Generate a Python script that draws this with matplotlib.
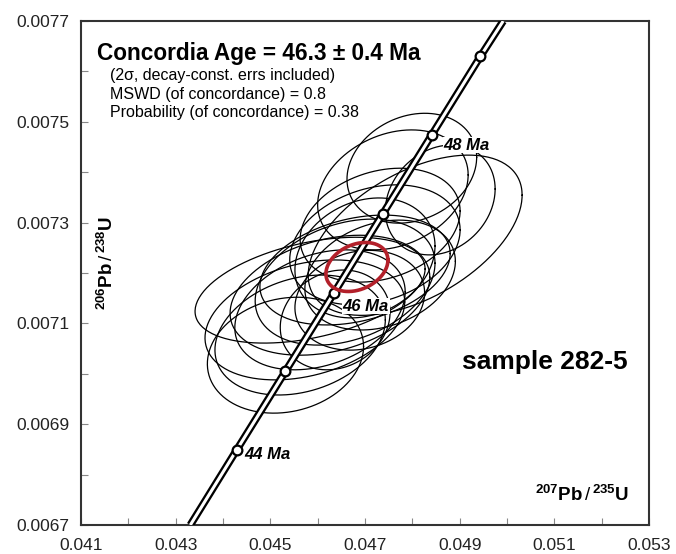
import numpy as np
import matplotlib
matplotlib.use("Agg")
import matplotlib.pyplot as plt

plt.rcParams['font.family'] = ['Liberation Sans', 'DejaVu Sans']
plt.rcParams['mathtext.fontset'] = 'custom'
plt.rcParams['mathtext.rm'] = 'Liberation Sans'
plt.rcParams['mathtext.bf'] = 'Liberation Sans:bold'
plt.rcParams['mathtext.it'] = 'Liberation Sans:italic'

# concordia line (ends at the frame) and age marks
conc_x = [0.04331, 0.04429, 0.04532, 0.04635, 0.04738, 0.04841, 0.04944, 0.04992]
conc_y = [0.006700, 0.006849, 0.007005, 0.007161, 0.007318, 0.007474, 0.007630, 0.007700]
mark_age = [44, 45, 46, 47, 48, 49]
mark_x = [0.04429, 0.04532, 0.04635, 0.04738, 0.04841, 0.04944]
mark_y = [0.006849, 0.007005, 0.007161, 0.007318, 0.007474, 0.007630]

# analyses: centre, 2 sigma errors, error correlation
ell_x = [0.04799, 0.04759, 0.04806, 0.04732, 0.04721, 0.04700, 0.04679, 0.04658, 0.04584,
         0.04626, 0.04605, 0.04573, 0.04563, 0.04532, 0.04637, 0.04859, 0.04689, 0.04732]
ell_y = [0.007408, 0.007365, 0.007275, 0.007295, 0.007256, 0.007230, 0.007206, 0.007182, 0.007166,
         0.007156, 0.007127, 0.007107, 0.007077, 0.007037, 0.007107, 0.007345, 0.007146, 0.007196]
ell_sx = [0.00137, 0.00159, 0.00226, 0.00169, 0.00180, 0.00148, 0.00201, 0.00190, 0.00243,
          0.00211, 0.00180, 0.00211, 0.00180, 0.00165, 0.00116, 0.00116, 0.00137, 0.00159]
ell_sy = [0.000109, 0.000119, 0.000159, 0.000113, 0.000119, 0.000119, 0.000109, 0.000125, 0.000105,
          0.000119, 0.000119, 0.000119, 0.000119, 0.000115, 0.000099, 0.000109, 0.000099, 0.000109]
ell_rho = [0.2, 0.25, 0.5, 0.25, 0.25, 0.2, 0.3, 0.3, 0.4, 0.3, 0.3, 0.3, 0.25, 0.15, 0.15, 0.2, 0.15, 0.25]

# concordia age ellipse
age_x, age_y, age_sx, age_sy, age_rho = 0.04683, 0.007212, 0.000655, 0.0000486, 0.28


def ellipse(x, y, sx, sy, rho):
    t = np.linspace(0, 2 * np.pi, 200)
    return x + sx * np.cos(t), y + sy * (rho * np.cos(t) + np.sqrt(1 - rho ** 2) * np.sin(t))


fig = plt.figure(figsize=(6.76, 5.54), dpi=100)
ax = fig.add_axes([0.1198, 0.0523, 0.8402, 0.9097])

for i in range(len(ell_x)):
    ex, ey = ellipse(ell_x[i], ell_y[i], ell_sx[i], ell_sy[i], ell_rho[i])
    ax.plot(ex, ey, color='black', lw=0.9, zorder=2)

ax.plot(conc_x, conc_y, color='black', lw=5.5, solid_capstyle='butt', zorder=3)
ax.plot(conc_x, conc_y, color='white', lw=2.2, solid_capstyle='butt', zorder=4)
ax.plot(mark_x, mark_y, 'o', ms=7, mfc='white', mec='black', mew=1.6, zorder=5)

ex, ey = ellipse(age_x, age_y, age_sx, age_sy, age_rho)
ax.plot(ex, ey, color='#b3202a', lw=2.6, zorder=6)

lab = dict(fontsize=12, fontweight='bold', style='italic', zorder=7)
ax.text(mark_x[2] + 0.00018, mark_y[2] - 0.000012, '%d Ma' % mark_age[2], ha='left', va='top',
        bbox=dict(fc='white', ec='none', pad=0.5), **lab)
ax.text(mark_x[4] + 0.00025, mark_y[4] - 0.00002, '%d Ma' % mark_age[4], ha='left', va='center',
        bbox=dict(fc='white', ec='none', pad=0.5), **lab)
ax.text(mark_x[0] + 0.00015, mark_y[0] - 0.00001, '%d Ma' % mark_age[0], ha='left', va='center', **lab)

ax.text(0.028, 0.9226, 'Concordia Age = 46.3 ± 0.4 Ma', transform=ax.transAxes,
        fontsize=16.3, fontweight='bold', va='baseline')
sub = ['(2σ, decay-const. errs included)', 'MSWD (of concordance) = 0.8',
       'Probability (of concordance) = 0.38']
for txt, yb in zip(sub, [0.883, 0.8447, 0.809]):
    ax.text(0.051, yb, txt, transform=ax.transAxes, fontsize=11.5, va='baseline')
ax.text(0.671, 0.323, 'sample 282-5', transform=ax.transAxes, fontsize=19, fontweight='bold',
        ha='left', va='center')

ax.text(0.882, 0.06, r'$^{\mathbf{207}}\mathbf{Pb}\,/\,^{\mathbf{235}}\mathbf{U}$', transform=ax.transAxes,
        fontsize=13.5, ha='center', va='center')
ax.text(0.045, 0.52, r'$^{\mathbf{206}}\mathbf{Pb}\,/\,^{\mathbf{238}}\mathbf{U}$', transform=ax.transAxes,
        fontsize=13.5, ha='center', va='center', rotation=90)

ax.set_xlim(0.041, 0.053)
ax.set_ylim(0.0067, 0.0077)
ax.set_xticks(np.arange(0.041, 0.0531, 0.002))
ax.set_xticks(np.arange(0.041, 0.0531, 0.001), minor=True)
ax.set_yticks(np.arange(0.0067, 0.00771, 0.0002))
ax.set_yticks(np.arange(0.0067, 0.00771, 0.0001), minor=True)
ax.set_xticklabels(['%.3f' % v for v in np.arange(0.041, 0.0531, 0.002)])
ax.set_yticklabels(['%.4f' % v for v in np.arange(0.0067, 0.00771, 0.0002)])
ax.tick_params(which='both', direction='in', color='#888888', width=0.8, length=5, labelsize=12.5,
               labelcolor='#222222')
ax.tick_params(axis='y', pad=8)
ax.tick_params(axis='x', pad=9)
for s in ax.spines.values():
    s.set_color('#333333')
    s.set_linewidth(1.5)

fig.savefig('out.png', dpi=100)
